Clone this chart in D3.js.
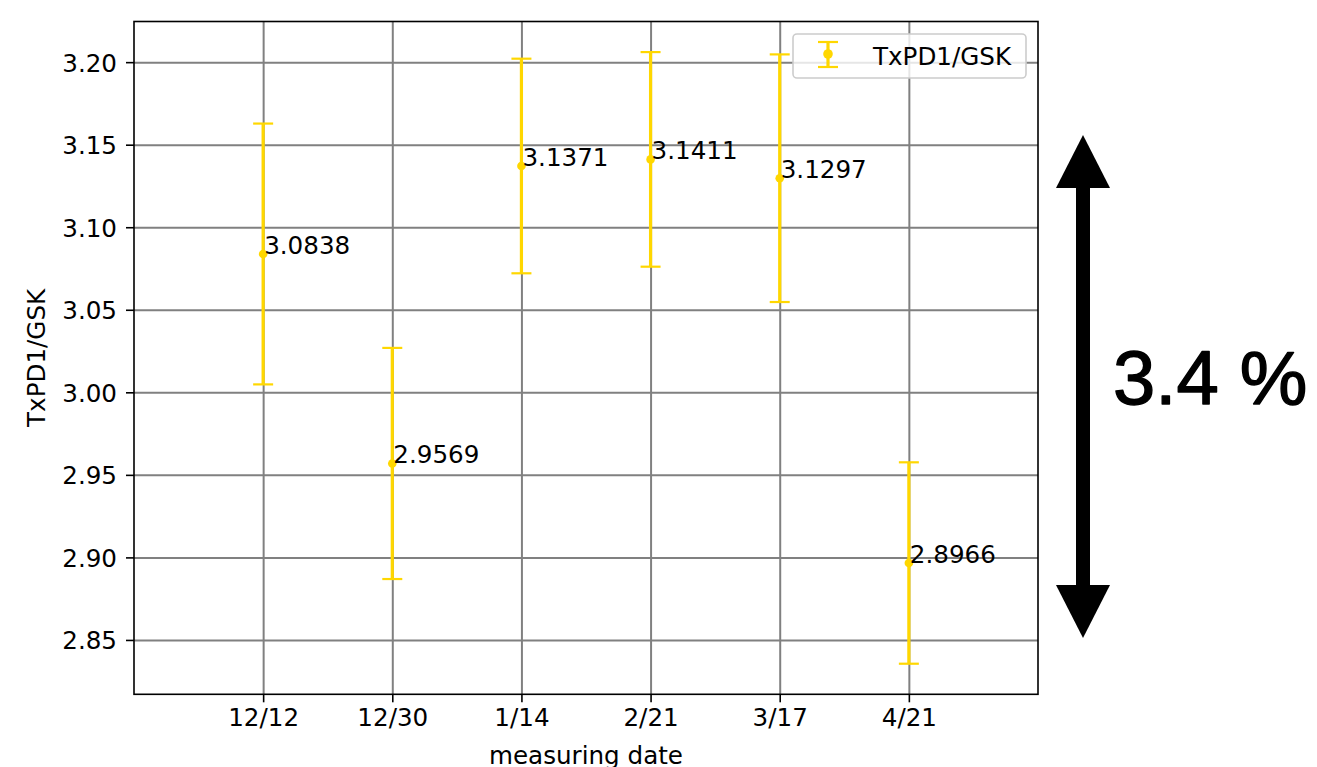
<!DOCTYPE html>
<html>
<head>
<meta charset="utf-8">
<script src="https://cdn.jsdelivr.net/npm/d3@7"></script>
<style>
  html, body { margin: 0; padding: 0; background: #fff; }
  svg { display: block; }
  text { font-family: "DejaVu Sans", sans-serif; fill: #000; }
  text.spread { font-family: "Liberation Sans", Arial, sans-serif; stroke: #000; stroke-width: 1.4px; stroke-linejoin: round; }
</style>
</head>
<body>
<svg id="chart" width="1317" height="767"></svg>
<script>
// Measurement dates and TxPD1/GSK ratios with their standard errors
const dates = ["12/12", "12/30", "1/14", "2/21", "3/17", "4/21"];
const ratios = [3.0838, 2.9569, 3.1371, 3.1411, 3.1297, 2.8966];
const errors = [0.079, 0.070, 0.065, 0.065, 0.075, 0.061];
const yTicks = [2.85, 2.90, 2.95, 3.00, 3.05, 3.10, 3.15, 3.20];
const seriesName = "TxPD1/GSK";
const spreadLabel = "3.4 %";

const svg = d3.select("#chart");
const plotL = 134, plotR = 1038, plotT = 21.5, plotB = 694.3;
const gold = "#FFD700", gridGray = "#808080";
const fs = 24.6;

// y range padded 5% around the error-bar extent
const lo = d3.min(ratios, (v, i) => v - errors[i]);
const hi = d3.max(ratios, (v, i) => v + errors[i]);
const pad = (hi - lo) * 0.05;
const y = d3.scaleLinear().domain([lo - pad, hi + pad]).range([plotB, plotT]);
const x = d3.scaleLinear().domain([-1, dates.length]).range([plotL, plotR]);

// grid
const grid = svg.append("g");
grid.append("g")
  .attr("transform", `translate(0,${plotB})`)
  .call(d3.axisBottom(x).tickValues(d3.range(dates.length)).tickSize(-(plotB - plotT)).tickFormat(""))
  .call(g => g.select(".domain").remove())
  .call(g => g.selectAll("line").attr("stroke", gridGray).attr("stroke-width", 2));
grid.append("g")
  .attr("transform", `translate(${plotL},0)`)
  .call(d3.axisLeft(y).tickValues(yTicks).tickSize(-(plotR - plotL)).tickFormat(""))
  .call(g => g.select(".domain").remove())
  .call(g => g.selectAll("line").attr("stroke", gridGray).attr("stroke-width", 2));

// error bars
const pts = svg.append("g").selectAll("g").data(ratios).join("g");
pts.append("line")
  .attr("x1", (d, i) => x(i)).attr("x2", (d, i) => x(i))
  .attr("y1", (d, i) => y(d + errors[i])).attr("y2", (d, i) => y(d - errors[i]))
  .attr("stroke", gold).attr("stroke-width", 3.2);
[1, -1].forEach(s => {
  pts.append("line")
    .attr("x1", (d, i) => x(i) - 10).attr("x2", (d, i) => x(i) + 10)
    .attr("y1", (d, i) => y(d + s * errors[i])).attr("y2", (d, i) => y(d + s * errors[i]))
    .attr("stroke", gold).attr("stroke-width", 2.2);
});
pts.append("circle")
  .attr("cx", (d, i) => x(i)).attr("cy", d => y(d)).attr("r", 4.3)
  .attr("fill", gold);
pts.append("text")
  .attr("x", (d, i) => x(i) + 1).attr("y", d => y(d))
  .attr("font-size", fs)
  .text(d => d.toFixed(4));

// axes
const xAxis = svg.append("g")
  .attr("transform", `translate(0,${plotB})`)
  .call(d3.axisBottom(x).tickValues(d3.range(dates.length)).tickSize(8).tickPadding(6).tickFormat(i => dates[i]));
xAxis.select(".domain").remove();
xAxis.selectAll("line").attr("stroke", "#000").attr("stroke-width", 1.6);
xAxis.selectAll("text").attr("font-size", fs).attr("fill", "#000").attr("dy", "0.71em");

const yAxis = svg.append("g")
  .attr("transform", `translate(${plotL},0)`)
  .call(d3.axisLeft(y).tickValues(yTicks).tickSize(8).tickPadding(9).tickFormat(d3.format(".2f")));
yAxis.select(".domain").remove();
yAxis.selectAll("line").attr("stroke", "#000").attr("stroke-width", 1.6);
yAxis.selectAll("text").attr("font-size", fs).attr("fill", "#000").attr("dy", "0.36em");
svg.selectAll(".tick text").style("font-family", "'DejaVu Sans', sans-serif");

// frame
svg.append("rect")
  .attr("x", plotL).attr("y", plotT).attr("width", plotR - plotL).attr("height", plotB - plotT)
  .attr("fill", "none").attr("stroke", "#000").attr("stroke-width", 1.6);

// axis titles
svg.append("text")
  .attr("x", (plotL + plotR) / 2).attr("y", 764)
  .attr("text-anchor", "middle").attr("font-size", fs)
  .text("measuring date");
svg.append("text")
  .attr("transform", `translate(45,${(plotT + plotB) / 2}) rotate(-90)`)
  .attr("text-anchor", "middle").attr("font-size", fs)
  .text(seriesName);

// legend
const lg = svg.append("g");
lg.append("rect")
  .attr("x", 793).attr("y", 34).attr("width", 233).attr("height", 44).attr("rx", 4)
  .attr("fill", "#fff").attr("fill-opacity", 0.8)
  .attr("stroke", "#ccc").attr("stroke-width", 1.6);
lg.append("line").attr("x1", 828).attr("x2", 828).attr("y1", 42).attr("y2", 67)
  .attr("stroke", gold).attr("stroke-width", 3.2);
[42, 67].forEach(v => lg.append("line").attr("x1", 818).attr("x2", 838).attr("y1", v).attr("y2", v)
  .attr("stroke", gold).attr("stroke-width", 2.2));
lg.append("circle").attr("cx", 828).attr("cy", 54).attr("r", 4.8).attr("fill", gold);
lg.append("text").attr("x", 873).attr("y", 65).attr("font-size", fs).text(seriesName);

// double-headed arrow marking the spread
const ax = 1083;
const arrow = svg.append("g").attr("fill", "#000");
arrow.append("rect").attr("x", ax - 7).attr("y", 186).attr("width", 14).attr("height", 401);
arrow.append("path").attr("d", d3.line()([[ax, 135], [ax - 27, 188], [ax + 27, 188]]) + "Z");
arrow.append("path").attr("d", d3.line()([[ax, 638], [ax - 27, 585], [ax + 27, 585]]) + "Z");
svg.append("text")
  .attr("class", "spread")
  .attr("x", 1113).attr("y", 404)
  .attr("font-size", 76)
  .text(spreadLabel);
</script>
</body>
</html>
